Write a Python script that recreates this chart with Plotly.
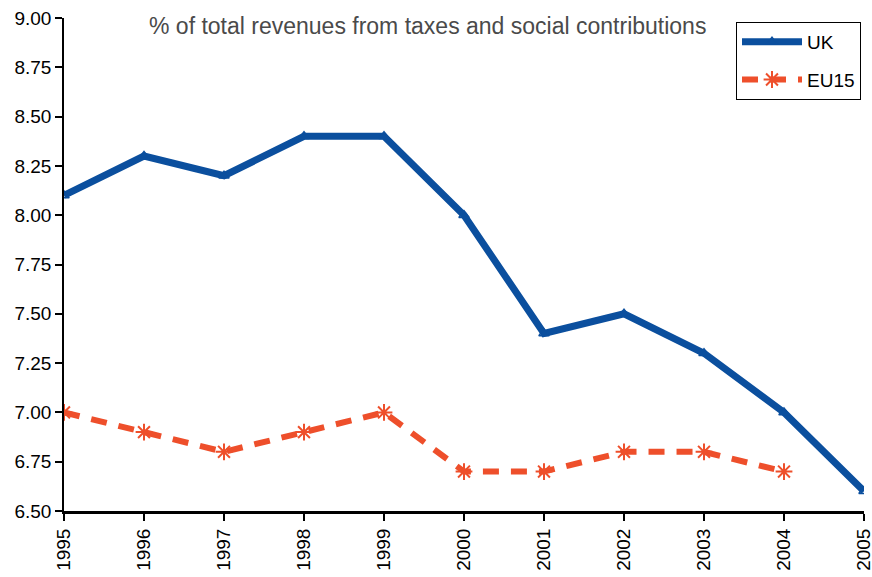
import plotly.graph_objects as go

years = [1995, 1996, 1997, 1998, 1999, 2000, 2001, 2002, 2003, 2004, 2005]
uk = [8.1, 8.3, 8.2, 8.4, 8.4, 8.0, 7.4, 7.5, 7.3, 7.0, 6.6]
eu15_years = [1995, 1996, 1997, 1998, 1999, 2000, 2001, 2002, 2003, 2004]
eu15 = [7.0, 6.9, 6.8, 6.9, 7.0, 6.7, 6.7, 6.8, 6.8, 6.7]
y_ticks = [6.50, 6.75, 7.00, 7.25, 7.50, 7.75, 8.00, 8.25, 8.50, 8.75, 9.00]

BLUE = "#0b4f9e"
RED = "#ee4f2b"

fig = go.Figure()
fig.add_trace(go.Scatter(
    x=years, y=uk, name="UK", mode="lines+markers", legendgroup="uk",
    line=dict(color=BLUE, width=7),
    marker=dict(symbol="triangle-up-open", size=9, color=BLUE, line=dict(width=1.5, color=BLUE)),
))
fig.add_trace(go.Scatter(
    x=eu15_years, y=eu15, name="EU15", mode="lines+markers", legendgroup="eu15",
    line=dict(color=RED, width=6, dash="16px,12px"),
    marker=dict(symbol="asterisk-open", size=14, color=RED, line=dict(width=2, color=RED)),
))

fig.update_layout(
    width=872, height=577,
    margin=dict(l=64, r=8, t=18, b=66),
    paper_bgcolor="white", plot_bgcolor="white",
    font=dict(family="Liberation Sans, Arial, sans-serif", size=19, color="black"),
    showlegend=True,
    legend=dict(
        x=0.84, y=0.992, xanchor="left", yanchor="top",
        bordercolor="black", borderwidth=1, bgcolor="white",
        font=dict(size=19), itemwidth=60, tracegroupgap=10,
    ),
    annotations=[dict(
        text="% of total revenues from taxes and social contributions",
        xref="paper", yref="paper", x=0.454, y=0.984, xanchor="center", yanchor="middle",
        showarrow=False, font=dict(size=23, color="#4a4a4a"),
    )],
)
fig.update_xaxes(
    range=[1995, 2005], tickmode="array", tickvals=years, ticktext=[str(y) for y in years],
    tickangle=-90, showgrid=False, zeroline=False, ticklabeloverflow="allow", automargin=False,
    showline=True, linecolor="black", linewidth=3,
    ticks="outside", ticklen=7, tickwidth=1.5, tickcolor="black",
)
fig.update_yaxes(
    range=[6.5, 9.0], tickmode="array", tickvals=y_ticks, ticktext=[f"{v:.2f}" for v in y_ticks],
    showgrid=False, zeroline=False, automargin=False,
    showline=True, linecolor="black", linewidth=1.5,
    ticks="outside", ticklen=7, tickwidth=1.5, tickcolor="black",
)

fig.write_html("out.html")
